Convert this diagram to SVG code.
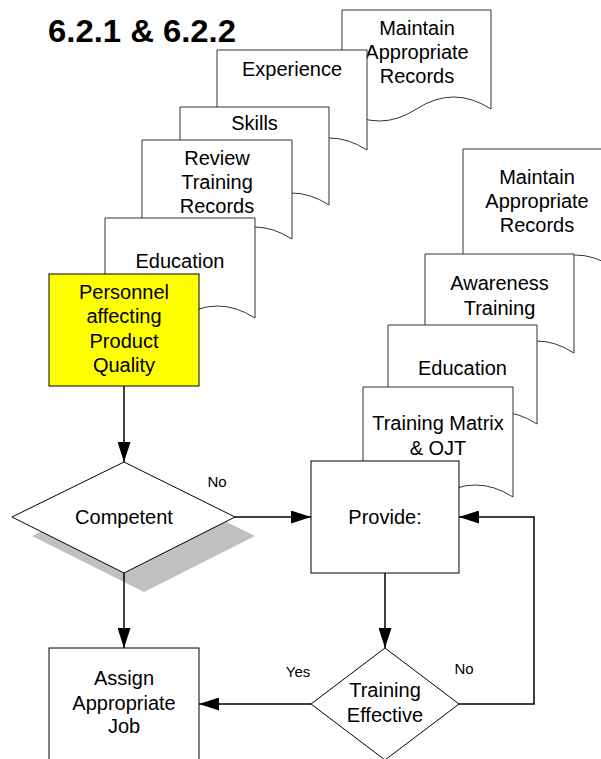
<svg xmlns="http://www.w3.org/2000/svg" width="601" height="759" viewBox="0 0 601 759">
<defs>
<style>
.doc{fill:#fff;stroke:#333;stroke-width:1}
.box{fill:#fff;stroke:#000;stroke-width:1}
.t{font-family:"Liberation Sans",Arial,sans-serif;font-size:20px;fill:#000;text-anchor:middle}
.lbl{font-family:"Liberation Sans",Arial,sans-serif;font-size:15px;fill:#000;text-anchor:middle}
.conn{fill:none;stroke:#000;stroke-width:1.5}
</style>
<marker id="ah" markerUnits="userSpaceOnUse" markerWidth="20" markerHeight="13" refX="20" refY="6.5" orient="auto">
<path d="M0,0 L20,6.5 L0,13 Z" fill="#000"/>
</marker>
</defs>
<rect width="601" height="759" fill="#fff"/>
<text x="48" y="42" font-family="Liberation Sans,Arial,sans-serif" font-size="32" font-weight="bold" textLength="188" lengthAdjust="spacingAndGlyphs">6.2.1 &amp; 6.2.2</text>

<g id="doc-maintain-left">
<path class="doc" d="M342,10 H491 V109 Q453.5,85 416.5,109 T342,109 Z"/>
<text class="t" x="417" y="35">Maintain</text>
<text class="t" x="417" y="59">Appropriate</text>
<text class="t" x="417" y="83">Records</text>
</g>
<g id="doc-experience">
<path class="doc" d="M217,50 H367 V150 Q329.5,126 292,150 T217,150 Z"/>
<text class="t" x="292" y="76">Experience</text>
</g>
<g id="doc-skills">
<path class="doc" d="M180,107 H329 V205 Q291.75,181 254.5,205 T180,205 Z"/>
<text class="t" x="254.5" y="130">Skills</text>
</g>
<g id="doc-review">
<path class="doc" d="M142,140 H292 V239 Q254.5,215 217,239 T142,239 Z"/>
<text class="t" x="217" y="165">Review</text>
<text class="t" x="217" y="189">Training</text>
<text class="t" x="217" y="213">Records</text>
</g>
<g id="doc-education-left">
<path class="doc" d="M105,218 H255 V318 Q217.5,294 180,318 T105,318 Z"/>
<text class="t" x="180" y="268">Education</text>
</g>
<g id="personnel">
<rect x="49" y="274" width="150" height="112" fill="#ffff00" stroke="#000" stroke-width="1"/>
<text class="t" x="124" y="299">Personnel</text>
<text class="t" x="124" y="323">affecting</text>
<text class="t" x="124" y="348">Product</text>
<text class="t" x="124" y="372">Quality</text>
</g>

<g id="doc-maintain-right">
<path class="doc" d="M463,149 H613 V267 Q575.5,243 538,267 T463,267 Z"/>
<text class="t" x="537" y="184">Maintain</text>
<text class="t" x="537" y="208">Appropriate</text>
<text class="t" x="537" y="232">Records</text>
</g>
<g id="doc-awareness">
<path class="doc" d="M425,254 H574 V353 Q536.75,329 499.5,353 T425,353 Z"/>
<text class="t" x="499.5" y="290">Awareness</text>
<text class="t" x="499.5" y="315">Training</text>
</g>
<g id="doc-education-right">
<path class="doc" d="M388,325 H537 V424 Q499.75,400 462.5,424 T388,424 Z"/>
<text class="t" x="462.5" y="375">Education</text>
</g>
<g id="doc-training-matrix">
<path class="doc" d="M363,387 H513 V497 Q475.5,473 438,497 T363,497 Z"/>
<text class="t" x="438" y="430">Training Matrix</text>
<text class="t" x="438" y="455">&amp; OJT</text>
</g>
<g id="provide">
<rect class="box" x="311" y="461" width="148" height="112"/>
<text class="t" x="385" y="524">Provide:</text>
</g>

<g id="competent">
<polygon points="144,481 255,536 144,592 32,536" fill="#c0c0c0"/>
<polygon class="box" points="124,462 235,517 124,573 12,517"/>
<text class="t" x="124" y="524">Competent</text>
</g>
<g id="assign">
<rect class="box" x="49" y="648" width="150" height="120"/>
<text class="t" x="124" y="685">Assign</text>
<text class="t" x="124" y="710">Appropriate</text>
<text class="t" x="124" y="733">Job</text>
</g>
<g id="training-effective">
<polygon class="box" points="385,648 459,704 385,760 311,704"/>
<text class="t" x="385" y="697">Training</text>
<text class="t" x="385" y="722">Effective</text>
</g>

<g id="connectors">
<path class="conn" d="M124,386 V462" marker-end="url(#ah)"/>
<path class="conn" d="M235,517 H311" marker-end="url(#ah)"/>
<path class="conn" d="M124,573 V648" marker-end="url(#ah)"/>
<path class="conn" d="M385,573 V648" marker-end="url(#ah)"/>
<path class="conn" d="M311,704 H199" marker-end="url(#ah)"/>
<path class="conn" d="M459,704 H534 V517 H459" marker-end="url(#ah)"/>
<text class="lbl" x="217" y="487">No</text>
<text class="lbl" x="298" y="677">Yes</text>
<text class="lbl" x="464" y="674">No</text>
</g>
</svg>
